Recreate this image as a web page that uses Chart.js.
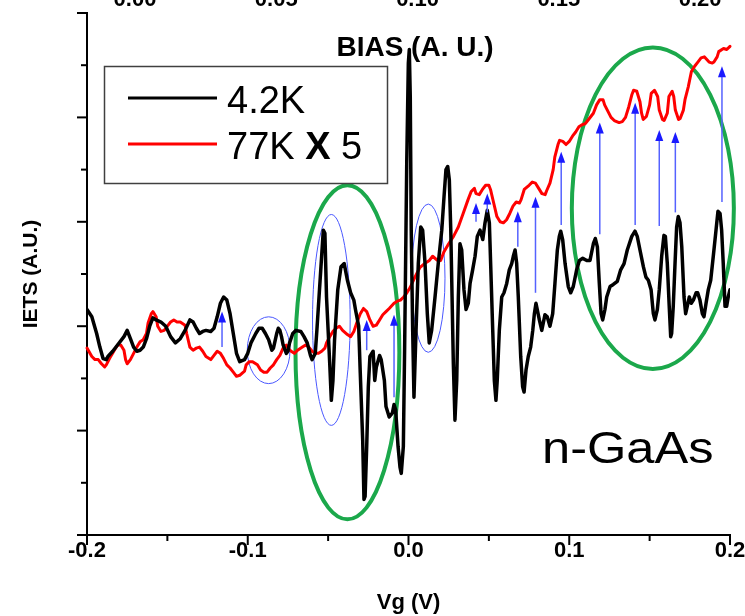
<!DOCTYPE html>
<html lang="es">
<head>
<meta charset="utf-8">
<title>IETS n-GaAs</title>
<script src="https://cdn.jsdelivr.net/npm/chart.js@4.4.1/dist/chart.umd.min.js"></script>
<style>
    html, body { margin: 0; padding: 0; background: #fff; }
    canvas { display: block; }
</style>
</head>
<body>
<canvas id="grafico" width="745" height="616"></canvas>
<script>
const FUENTE = '"Liberation Sans", Arial, sans-serif';

// 4.2K
const vg42K = [
    -0.200, -0.197, -0.194, -0.192, -0.190, -0.188, -0.187, -0.184, -0.181, -0.177,
    -0.175, -0.173, -0.171, -0.169, -0.167, -0.165, -0.163, -0.161, -0.159, -0.157,
    -0.154, -0.151, -0.148, -0.145, -0.142, -0.139, -0.136, -0.134, -0.132, -0.130,
    -0.128, -0.126, -0.123, -0.121, -0.119, -0.117, -0.115, -0.113, -0.111, -0.109,
    -0.107, -0.105, -0.102, -0.100, -0.098, -0.095, -0.093, -0.091, -0.089, -0.087,
    -0.085, -0.084, -0.082, -0.081, -0.080, -0.079, -0.078, -0.076, -0.075, -0.074,
    -0.072, -0.070, -0.067, -0.065, -0.063, -0.061, -0.060, -0.058, -0.057, -0.055,
    -0.053, -0.052, -0.051, -0.049, -0.048, -0.047, -0.046, -0.044, -0.042, -0.040,
    -0.038, -0.036, -0.034, -0.033, -0.031, -0.030, -0.0285, -0.0277, -0.027, -0.026,
    -0.025, -0.024, -0.022, -0.021, -0.020, -0.018, -0.017, -0.015, -0.014, -0.012,
    -0.010, -0.009, -0.008, -0.0065, -0.0053, -0.0045, -0.0032, -0.0024, -0.0011, -0.0001,
    0.0005, 0.0011, 0.0017, 0.0026, 0.0034, 0.0047, 0.0061, 0.0076, 0.0088, 0.0103,
    0.0117, 0.0129, 0.0144, 0.0165, 0.0185, 0.0207, 0.0221, 0.0233, 0.0244, 0.0254,
    0.0263, 0.0271, 0.0279, 0.0289, 0.0300, 0.0310, 0.0320, 0.0331, 0.0345, 0.0358,
    0.0372, 0.0383, 0.0399, 0.0414, 0.0428, 0.0445, 0.0462, 0.0476, 0.0490, 0.0503,
    0.0511, 0.0524, 0.0534, 0.0544, 0.0552, 0.0565, 0.0580, 0.0594, 0.0611, 0.0627,
    0.0642, 0.0652, 0.0663, 0.0673, 0.0683, 0.0698, 0.0710, 0.0719, 0.0731, 0.0745,
    0.0760, 0.0773, 0.0783, 0.0793, 0.0801, 0.0814, 0.0829, 0.0849, 0.0863, 0.0880,
    0.0897, 0.0911, 0.0926, 0.0938, 0.0947, 0.0959, 0.0974, 0.0994, 0.1009, 0.1025,
    0.1046, 0.1063, 0.1084, 0.1109, 0.1129, 0.1150, 0.1162, 0.1175, 0.1187, 0.1198,
    0.1208, 0.1222, 0.1233, 0.1254, 0.1274, 0.1299, 0.1320, 0.1341, 0.1361, 0.1389,
    0.1409, 0.1423, 0.1440, 0.1461, 0.1477, 0.1492, 0.1509, 0.1523, 0.1533, 0.1548,
    0.1560, 0.1575, 0.1589, 0.1598, 0.1610, 0.1621, 0.1631, 0.1637, 0.1647, 0.1658,
    0.1668, 0.1678, 0.1689, 0.1700, 0.1714, 0.1724, 0.1734, 0.1747, 0.1759, 0.1772,
    0.1789, 0.1799, 0.1813, 0.1828, 0.1838, 0.1851, 0.1865, 0.1880, 0.1896, 0.1913,
    0.1925, 0.1938, 0.1948, 0.1958, 0.1969, 0.1979, 0.1989, 0.2000,
];
const iets42K = [
    2.16, 2.09, 1.93, 1.80, 1.69, 1.68, 1.71, 1.76, 1.82, 1.90,
    1.96, 1.88, 1.80, 1.76, 1.77, 1.80, 1.88, 2.00, 2.08, 2.06,
    2.04, 2.00, 1.90, 1.84, 1.88, 1.96, 2.06, 2.04, 1.98, 1.93,
    1.95, 1.96, 1.95, 1.98, 2.09, 2.22, 2.28, 2.25, 2.12, 1.93,
    1.74, 1.66, 1.68, 1.74, 1.84, 1.93, 1.98, 1.98, 1.93, 1.87,
    1.77, 1.79, 1.93, 1.98, 1.96, 1.90, 1.82, 1.74, 1.76, 1.84,
    1.93, 1.96, 1.95, 1.90, 1.84, 1.72, 1.68, 1.74, 1.96, 2.44,
    2.92, 2.89, 2.28, 1.64, 1.29, 1.48, 1.87, 2.35, 2.57, 2.60,
    2.44, 2.32, 2.25, 2.16, 2.00, 1.55, 0.91, 0.34, 0.37, 0.85,
    1.42, 1.71, 1.76, 1.48, 1.61, 1.72, 1.68, 1.48, 1.23, 1.13,
    1.17, 1.25, 1.20, 0.85, 0.65, 0.59, 0.85, 1.80, 3.56, 4.52,
    4.65, 4.20, 2.92, 1.96, 1.32, 1.96, 2.60, 2.95, 2.92, 2.60,
    2.12, 1.84, 1.96, 2.28, 2.60, 2.92, 3.24, 3.50, 3.53, 3.40,
    2.92, 2.28, 1.64, 1.10, 1.48, 2.28, 2.79, 2.73, 2.35, 2.16,
    2.22, 2.41, 2.54, 2.67, 2.86, 2.92, 2.83, 2.99, 3.11, 2.99,
    2.60, 1.96, 1.48, 1.29, 1.48, 1.96, 2.28, 2.32, 2.41, 2.54,
    2.60, 2.67, 2.73, 2.60, 2.28, 1.71, 1.42, 1.37, 1.58, 1.71,
    1.80, 1.96, 2.12, 2.22, 2.16, 2.06, 1.96, 2.11, 2.09, 2.00,
    2.12, 2.41, 2.73, 2.86, 2.91, 2.83, 2.60, 2.38, 2.32, 2.38,
    2.54, 2.63, 2.65, 2.63, 2.63, 2.79, 2.84, 2.76, 2.41, 2.12,
    2.06, 2.16, 2.28, 2.38, 2.40, 2.43, 2.54, 2.60, 2.73, 2.86,
    2.91, 2.86, 2.73, 2.57, 2.47, 2.44, 2.35, 2.12, 2.06, 2.16,
    2.35, 2.67, 2.87, 2.86, 2.60, 2.22, 1.90, 1.93, 2.19, 2.60,
    2.95, 3.05, 2.99, 2.76, 2.28, 2.12, 2.19, 2.28, 2.22, 2.25,
    2.32, 2.32, 2.25, 2.12, 2.09, 2.22, 2.35, 2.44, 2.67, 2.92,
    3.10, 3.08, 2.92, 2.60, 2.19, 2.19, 2.28, 2.35,
];

// 77K (x 5)
const vg77K = [
    -0.200, -0.197, -0.195, -0.193, -0.191, -0.189, -0.188, -0.186, -0.183, -0.181,
    -0.179, -0.177, -0.176, -0.175, -0.173, -0.171, -0.169, -0.167, -0.165, -0.163,
    -0.162, -0.160, -0.159, -0.157, -0.156, -0.154, -0.152, -0.150, -0.148, -0.146,
    -0.144, -0.142, -0.139, -0.138, -0.136, -0.134, -0.132, -0.130, -0.128, -0.126,
    -0.123, -0.121, -0.119, -0.117, -0.115, -0.113, -0.111, -0.109, -0.107, -0.105,
    -0.102, -0.101, -0.099, -0.097, -0.094, -0.092, -0.090, -0.088, -0.086, -0.084,
    -0.082, -0.080, -0.078, -0.076, -0.075, -0.073, -0.071, -0.069, -0.066, -0.064,
    -0.062, -0.060, -0.058, -0.056, -0.054, -0.052, -0.051, -0.049, -0.047, -0.045,
    -0.043, -0.041, -0.038, -0.036, -0.034, -0.032, -0.030, -0.028, -0.026, -0.024,
    -0.022, -0.020, -0.018, -0.016, -0.014, -0.012, -0.009, -0.007, -0.005, -0.003,
    -0.001, 0.001, 0.004, 0.007, 0.010, 0.013, 0.015, 0.018, 0.020, 0.022,
    0.025, 0.028, 0.031, 0.034, 0.037, 0.039, 0.041, 0.042, 0.044, 0.046,
    0.048, 0.050, 0.051, 0.053, 0.055, 0.057, 0.059, 0.061, 0.063, 0.065,
    0.067, 0.069, 0.070, 0.072, 0.075, 0.077, 0.079, 0.081, 0.083, 0.085,
    0.086, 0.088, 0.090, 0.091, 0.093, 0.094, 0.096, 0.098, 0.100, 0.102,
    0.104, 0.106, 0.108, 0.110, 0.112, 0.115, 0.117, 0.119, 0.121, 0.122,
    0.124, 0.126, 0.128, 0.131, 0.133, 0.135, 0.137, 0.139, 0.140, 0.142,
    0.144, 0.145, 0.146, 0.148, 0.150, 0.151, 0.153, 0.155, 0.156, 0.158,
    0.159, 0.161, 0.162, 0.164, 0.165, 0.166, 0.168, 0.169, 0.171, 0.172,
    0.174, 0.176, 0.178, 0.180, 0.182, 0.184, 0.187, 0.189, 0.190, 0.192,
    0.193, 0.195, 0.196, 0.198, 0.200, 0.201, 0.204, 0.207,
];
const iets77K = [
    1.79, 1.71, 1.68, 1.68, 1.64, 1.61, 1.63, 1.69, 1.77, 1.82,
    1.82, 1.77, 1.68, 1.64, 1.68, 1.74, 1.80, 1.85, 1.87, 1.93,
    2.03, 2.12, 2.14, 2.09, 2.00, 1.95, 1.96, 2.00, 2.04, 2.06,
    2.04, 2.04, 2.01, 1.93, 1.80, 1.77, 1.79, 1.80, 1.76, 1.71,
    1.68, 1.72, 1.76, 1.74, 1.69, 1.63, 1.60, 1.56, 1.52, 1.53,
    1.57, 1.63, 1.66, 1.66, 1.63, 1.58, 1.56, 1.56, 1.60, 1.63,
    1.68, 1.72, 1.79, 1.82, 1.79, 1.76, 1.74, 1.77, 1.80, 1.82,
    1.80, 1.76, 1.74, 1.74, 1.76, 1.79, 1.84, 1.90, 1.95, 1.98,
    2.00, 1.96, 1.92, 1.90, 1.95, 2.04, 2.12, 2.17, 2.14, 2.06,
    2.00, 2.01, 2.06, 2.11, 2.14, 2.17, 2.22, 2.24, 2.25, 2.28,
    2.32, 2.37, 2.47, 2.56, 2.60, 2.63, 2.67, 2.63, 2.63, 2.71,
    2.79, 2.86, 2.95, 3.08, 3.21, 3.29, 3.32, 3.27, 3.26, 3.31,
    3.35, 3.35, 3.31, 3.18, 3.05, 3.00, 2.99, 3.02, 3.08, 3.15,
    3.19, 3.18, 3.21, 3.31, 3.35, 3.38, 3.37, 3.32, 3.27, 3.26,
    3.30, 3.37, 3.50, 3.62, 3.74, 3.78, 3.77, 3.74, 3.77, 3.82,
    3.86, 3.91, 3.93, 3.94, 3.98, 4.04, 4.12, 4.17, 4.17, 4.12,
    4.06, 4.00, 3.97, 3.95, 3.96, 4.00, 4.10, 4.22, 4.26, 4.25,
    4.15, 4.04, 3.98, 4.01, 4.12, 4.23, 4.26, 4.20, 4.07, 3.98,
    3.97, 4.04, 4.20, 4.25, 4.20, 4.07, 3.98, 3.99, 4.07, 4.17,
    4.29, 4.44, 4.49, 4.53, 4.57, 4.58, 4.53, 4.52, 4.53, 4.58,
    4.63, 4.65, 4.66, 4.65, 4.68, 4.71, 4.70, 4.73,
];

const ticksVg = [-0.2, -0.1, 0.0, 0.1, 0.2];
const ticksVgMenores = [-0.15, -0.05, 0.05, 0.15];
const ticksBias = [0.00, 0.05, 0.10, 0.15, 0.20];
const ticksIets = [0, 1, 2, 3, 4, 5];
const ticksIetsMenores = [0.5, 1.5, 2.5, 3.5, 4.5];

// zonas marcadas, en unidades de los ejes (Vg, IETS)
const elipsesVerdes = [
    { x: -0.038, y: 1.75, rx: 0.0323, ry: 1.60 },
    { x: 0.152, y: 3.13, rx: 0.0504, ry: 1.54 },
];
const elipsesAzules = [
    { x: -0.087, y: 1.77, rx: 0.0133, ry: 0.32 },
    { x: -0.048, y: 2.06, rx: 0.0117, ry: 1.01 },
    { x: 0.0123, y: 2.46, rx: 0.0104, ry: 0.71 },
];
const flechas = [
    { x: -0.116, desde: 1.80, hasta: 2.14 },
    { x: -0.026, desde: 1.77, hasta: 2.06 },
    { x: -0.009, desde: 1.32, hasta: 2.11 },
    { x: 0.042, desde: 3.00, hasta: 3.18 },
    { x: 0.049, desde: 3.09, hasta: 3.27 },
    { x: 0.068, desde: 2.76, hasta: 3.10 },
    { x: 0.079, desde: 2.32, hasta: 3.24 },
    { x: 0.095, desde: 2.97, hasta: 3.67 },
    { x: 0.119, desde: 2.88, hasta: 3.95 },
    { x: 0.141, desde: 2.97, hasta: 4.14 },
    { x: 0.156, desde: 2.96, hasta: 3.88 },
    { x: 0.166, desde: 3.09, hasta: 3.86 },
    { x: 0.195, desde: 3.19, hasta: 4.49 },
];

function puntos(xs, ys) {
    return xs.map((v, i) => ({ x: v, y: ys[i] }));
}

function elipse(ctx, sx, sy, e) {
    const cx = sx.getPixelForValue(e.x);
    const cy = sy.getPixelForValue(e.y);
    const rx = Math.abs(sx.getPixelForValue(e.x + e.rx) - cx);
    const ry = Math.abs(sy.getPixelForValue(e.y + e.ry) - cy);
    ctx.beginPath();
    ctx.ellipse(cx, cy, rx, ry, 0, 0, Math.PI * 2);
    ctx.stroke();
}

function linea(ctx, x1, y1, x2, y2) {
    ctx.beginPath();
    ctx.moveTo(x1, y1);
    ctx.lineTo(x2, y2);
    ctx.stroke();
}

const dibujoExtra = {
    id: "dibujoExtra",
    beforeDatasetsDraw(chart) {
        const { ctx, scales: { x, y } } = chart;
        ctx.save();
        ctx.strokeStyle = "#1ba84b";
        ctx.lineWidth = 4;
        elipsesVerdes.forEach((e) => elipse(ctx, x, y, e));
        ctx.strokeStyle = "#4a58ff";
        ctx.lineWidth = 1;
        elipsesAzules.forEach((e) => elipse(ctx, x, y, e));
        ctx.restore();
    },
    afterDatasetsDraw(chart) {
        const { ctx, scales: { x, y } } = chart;
        ctx.save();
        flechas.forEach((f) => {
            const px = x.getPixelForValue(f.x);
            const p0 = y.getPixelForValue(f.desde);
            const p1 = y.getPixelForValue(f.hasta);
            ctx.strokeStyle = "#5562ff";
            ctx.lineWidth = 1.5;
            linea(ctx, px, p0, px, p1 + 8);
            ctx.fillStyle = "#1a1aff";
            ctx.beginPath();
            ctx.moveTo(px, p1);
            ctx.lineTo(px - 4, p1 + 11);
            ctx.lineTo(px + 4, p1 + 11);
            ctx.closePath();
            ctx.fill();
        });
        ctx.restore();
    },
    afterDraw(chart) {
        const { ctx, chartArea: area, scales: { x, y } } = chart;
        ctx.save();

        // marcas de los ejes
        ctx.strokeStyle = "#000";
        ctx.lineWidth = 2;
        ticksVg.forEach((v) => { const p = x.getPixelForValue(v); linea(ctx, p, area.bottom, p, area.bottom + 10); });
        ticksVgMenores.forEach((v) => { const p = x.getPixelForValue(v); linea(ctx, p, area.bottom, p, area.bottom + 6); });
        ticksIets.forEach((v) => { const p = y.getPixelForValue(v); linea(ctx, area.left - 10, p, area.left, p); });
        ticksIetsMenores.forEach((v) => { const p = y.getPixelForValue(v); linea(ctx, area.left - 6, p, area.left, p); });

        // leyenda
        ctx.strokeStyle = "#404040";
        ctx.lineWidth = 1.5;
        ctx.strokeRect(104.5, 66.5, 283, 117);
        chart.data.datasets.forEach((ds, i) => {
            const base = 113 + i * 46;
            ctx.strokeStyle = ds.borderColor;
            ctx.lineWidth = 3;
            linea(ctx, 128, base - 15, 217, base - 15);
            ctx.fillStyle = "#000";
            ctx.textBaseline = "alphabetic";
            ctx.textAlign = "left";
            let cx = 227;
            ds.label.split(/( X )/).forEach((parte) => {
                const negrita = parte === " X ";
                ctx.font = (negrita ? "bold " : "") + "38px " + FUENTE;
                ctx.fillText(parte, cx, base);
                cx += ctx.measureText(parte).width;
            });
        });

        // textos
        ctx.fillStyle = "#000";
        ctx.textAlign = "center";
        ctx.font = "bold 28px " + FUENTE;
        ctx.fillText("BIAS (A. U.)", 415, 56);

        ctx.save();
        ctx.translate(542, 463);
        ctx.scale(1.15, 1);
        ctx.textAlign = "left";
        ctx.font = "44px " + FUENTE;
        ctx.fillText("n-GaAs", 0, 0);
        ctx.restore();

        ctx.restore();
    },
};

const fuenteEje = { family: FUENTE, size: 22, weight: "bold" };

new Chart(document.getElementById("grafico"), {
    type: "line",
    data: {
        datasets: [
            { label: "4.2K", data: puntos(vg42K, iets42K), borderColor: "#000000", borderWidth: 3.5 },
            { label: "77K X 5", data: puntos(vg77K, iets77K), borderColor: "#ff0000", borderWidth: 3, clip: false },
        ],
    },
    options: {
        responsive: false,
        animation: false,
        devicePixelRatio: 1,
        layout: { padding: { left: 0, right: 15, top: 0, bottom: 0 } },
        elements: {
            point: { radius: 0 },
            line: { tension: 0, borderJoinStyle: "round", borderCapStyle: "round" },
        },
        plugins: { legend: { display: false }, tooltip: { enabled: false } },
        scales: {
            x: {
                type: "linear",
                position: "bottom",
                min: -0.2,
                max: 0.2,
                grid: { display: false, drawTicks: false },
                border: { display: true, color: "#000", width: 2 },
                afterBuildTicks: (s) => { s.ticks = ticksVg.map((v) => ({ value: v })); },
                afterFit: (s) => { s.height = 81; s.paddingLeft = 0; s.paddingRight = 0; },
                ticks: {
                    color: "#000",
                    font: fuenteEje,
                    padding: 3,
                    autoSkip: false,
                    maxRotation: 0,
                    callback: (v) => Number(v).toFixed(1),
                },
                title: { display: true, text: "Vg (V)", color: "#000", font: fuenteEje, padding: { top: 0, bottom: 0 } },
            },
            x2: {
                type: "linear",
                position: "top",
                min: -0.017,
                max: 0.2106,
                grid: { display: false, drawTicks: false },
                border: { display: false },
                afterBuildTicks: (s) => { s.ticks = ticksBias.map((v) => ({ value: v })); },
                afterFit: (s) => { s.height = 13; s.paddingLeft = 0; s.paddingRight = 0; },
                ticks: {
                    color: "#000",
                    font: fuenteEje,
                    padding: 0,
                    autoSkip: false,
                    maxRotation: 0,
                    callback: (v) => Number(v).toFixed(2),
                },
            },
            y: {
                type: "linear",
                min: 0,
                max: 5,
                grid: { display: false, drawTicks: false },
                border: { display: true, color: "#000", width: 2 },
                ticks: { display: false },
                afterFit: (s) => { s.width = 87; s.paddingTop = 0; s.paddingBottom = 0; },
                title: {
                    display: true,
                    text: "IETS (A.U.)",
                    color: "#000",
                    font: { family: FUENTE, size: 21, weight: "bold" },
                    padding: { top: 19, bottom: 0 },
                },
            },
        },
    },
    plugins: [dibujoExtra],
});
</script>
</body>
</html>
